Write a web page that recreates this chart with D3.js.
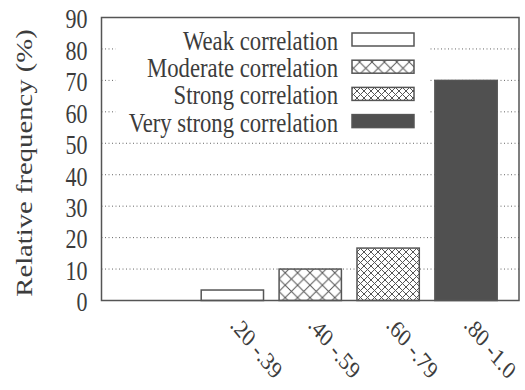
<!DOCTYPE html>
<html>
<head>
<meta charset="utf-8">
<script src="https://cdn.jsdelivr.net/npm/d3@7"></script>
</head>
<body style="margin:0;background:#fff">
<svg id="chart" width="525" height="390"></svg>
<script>
// Share of pairs falling in each correlation-strength bin
const categories = [".20 -.39", ".40 -.59", ".60 -.79", ".80 -1.0"];
const seriesNames = ["Weak correlation", "Moderate correlation", "Strong correlation", "Very strong correlation"];
const values = [3.33, 10, 16.67, 70];
const yTicks = [0, 10, 20, 30, 40, 50, 60, 70, 80, 90];
const gridTicks = [10, 20, 30, 40, 50, 60, 70, 80];

const plot = { left: 101.5, right: 519, top: 17.5, bottom: 300.5 };
const stroke = "#555";
const textColor = "#3c3c3c";
const fontFamily = "Liberation Serif";
const stretch = 1.22; // glyphs are drawn taller than wide

const svg = d3.select("#chart");

// fills: white, coarse cross-hatch, fine cross-hatch, solid dark
const defs = svg.append("defs");
function hatch(id, s) {
  const p = defs.append("pattern")
    .attr("id", id).attr("patternUnits", "userSpaceOnUse")
    .attr("width", s).attr("height", s);
  p.append("rect").attr("width", s).attr("height", s).attr("fill", "#fff");
  p.append("path")
    .attr("d", `M0,0L${s},${s}M${s},0L0,${s}`)
    .attr("stroke", "#555").attr("stroke-width", 1).attr("fill", "none");
}
hatch("hatchA", 12.4);
hatch("hatchB", 7);
const fills = ["#fff", "url(#hatchA)", "url(#hatchB)", "#505050"];

const x = d3.scaleLinear().domain([-1.68, 3.68]).range([plot.left, plot.right]);
const y = d3.scaleLinear().domain([0, 90]).range([plot.bottom, plot.top]);
const barW = x(0.8) - x(0);

function stretchedText(g, px, py, str, opts = {}) {
  return g.append("text")
    .attr("transform", `translate(${px},${py}) scale(1,${stretch})` + (opts.rotate ? ` rotate(${opts.rotate})` : ""))
    .attr("font-family", fontFamily)
    .attr("font-size", opts.size || 22)
    .attr("fill", textColor)
    .attr("text-anchor", opts.anchor || "start")
    .text(str);
}

// dotted horizontal grid
svg.append("g").selectAll("line").data(gridTicks).join("line")
  .attr("x1", plot.left).attr("x2", plot.right)
  .attr("y1", d => y(d)).attr("y2", d => y(d))
  .attr("stroke", "#666").attr("stroke-width", 1)
  .attr("stroke-dasharray", "1,2.5");

// legend background hides the grid behind it
const legend = svg.append("g");
legend.append("rect")
  .attr("x", plot.left + 14).attr("y", 26)
  .attr("width", 428 - plot.left - 14).attr("height", 105)
  .attr("fill", "#fff");

// bars
svg.append("g").selectAll("rect").data(values).join("rect")
  .attr("x", (d, i) => x(i) - barW / 2)
  .attr("y", d => y(d))
  .attr("width", barW)
  .attr("height", d => y(0) - y(d))
  .attr("fill", (d, i) => fills[i])
  .attr("stroke", stroke).attr("stroke-width", 1.5);

// plot frame
svg.append("rect")
  .attr("x", plot.left).attr("y", plot.top)
  .attr("width", plot.right - plot.left).attr("height", plot.bottom - plot.top)
  .attr("fill", "none").attr("stroke", stroke).attr("stroke-width", 1.5);

// y tick labels
const yl = svg.append("g");
yTicks.forEach(t => stretchedText(yl, 87.5, y(t) + 10.8, String(t), { anchor: "end", size: 22 }));

// y axis title
stretchedText(svg, 32, (plot.top + plot.bottom) / 2 + 4, "Relative frequency (%)", { anchor: "middle", size: 23.5, rotate: -90 });

// x tick labels, slanted
const xl = svg.append("g");
categories.forEach((c, i) => stretchedText(xl, x(i) - 3, 326, c, { size: 20.5, rotate: 45 }));

// legend entries
const rowY = i => 39.5 + i * 27.2;
seriesNames.forEach((name, i) => {
  stretchedText(legend, 338, rowY(i) + 10.5, name, { anchor: "end", size: 22.7 });
  legend.append("rect")
    .attr("x", 352).attr("y", rowY(i) - 6.5)
    .attr("width", 62).attr("height", 13)
    .attr("fill", fills[i])
    .attr("stroke", stroke).attr("stroke-width", 1.5);
});
</script>
</body>
</html>
